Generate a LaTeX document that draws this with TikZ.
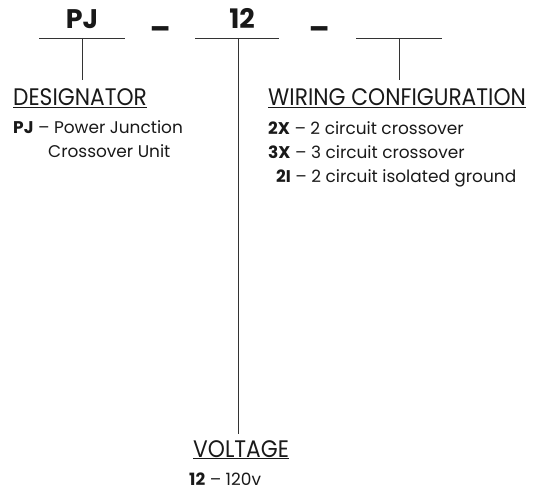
\documentclass[tikz,border=0pt]{standalone}
\usepackage{fontspec}
\setmainfont{Poppins}
\newfontfamily\headfont{Poppins}[FakeStretch=0.91]
\tikzset{
  code/.style={anchor=base, inner sep=0pt, font=\fontsize{27}{30}\selectfont\bfseries},
  head/.style={anchor=base west, inner sep=0pt, font=\headfont\fontsize{24}{28}\selectfont},
  item/.style={anchor=base west, inner sep=0pt, font=\fontsize{17}{20}\selectfont},
  rule/.style={line width=0.9bp, black!80},
}
\begin{document}
\begin{tikzpicture}[x=1bp, y=-1bp, text=black!90]
  \useasboundingbox (0,0) rectangle (540,491);
  % Nodes
  \node[code] (pj) at (82,29) {PJ};
  \node[code] (sep1) at (160,26) {\_};
  \node[code] (volt) at (242,29) {12};
  \node[code] (sep2) at (319,26) {\_};
  \coordinate (pjL) at (39,38);
  \coordinate (pjR) at (125,38);
  \coordinate (pjM) at (82,38);
  \coordinate (pjE) at (82,80);
  \coordinate (voltL) at (195,38);
  \coordinate (voltR) at (279,38);
  \coordinate (voltM) at (238,38);
  \coordinate (voltE) at (238,434);
  \coordinate (wireL) at (356,38);
  \coordinate (wireR) at (442,38);
  \coordinate (wireM) at (399,38);
  \coordinate (wireE) at (399,80);
  \node[head] (desig) at (13,106) {\underline{DESIGNATOR}};
  \node[item] (pj1) at (13,134) {\textbf{PJ} -- Power Junction};
  \node[item] (pj2) at (48,158) {Crossover Unit};
  \node[head] (wiring) at (268,106) {\underline{WIRING CONFIGURATION}};
  \node[item] (w1) at (268,135) {\textbf{2X} -- 2 circuit crossover};
  \node[item] (w2) at (268,159) {\textbf{3X} -- 3 circuit crossover};
  \node[item] (w3) at (276,183) {\textbf{2I} -- 2 circuit isolated ground};
  \node[head] (voltage) at (193,457) {\underline{VOLTAGE}};
  \node[item] (v1) at (189,485) {\textbf{12} -- 120v};
  % Edges
  \draw[rule] (pjL) -- (pjR);
  \draw[rule] (pjM) -- (pjE);
  \draw[rule] (voltL) -- (voltR);
  \draw[rule] (voltM) -- (voltE);
  \draw[rule] (wireL) -- (wireR);
  \draw[rule] (wireM) -- (wireE);
\end{tikzpicture}
\end{document}
